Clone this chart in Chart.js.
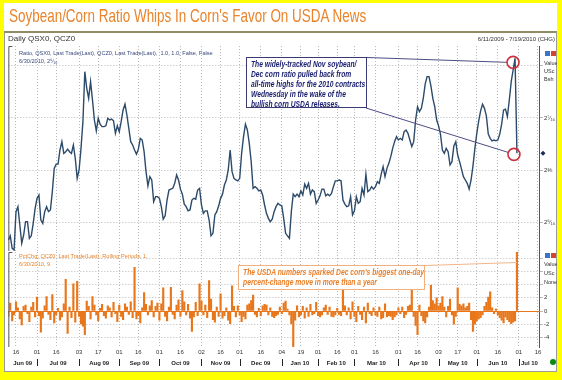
<!DOCTYPE html>
<html><head><meta charset="utf-8">
<script src="https://cdn.jsdelivr.net/npm/chart.js@4.4.1/dist/chart.umd.min.js"></script>
<style>
html,body{margin:0;padding:0;background:#fff;}
#wrap{position:relative;width:562px;height:380px;overflow:hidden;background:#fff;font-family:"Liberation Sans",Arial,sans-serif;}
canvas{position:absolute;left:0;top:0;}
.t{position:absolute;white-space:nowrap;line-height:1;}
#frame{position:absolute;left:0;top:0;width:562px;height:380px;box-sizing:border-box;border:solid #ffff00;border-width:3px 5px 8px 4px;pointer-events:none;}
#panel{position:absolute;left:4px;top:31px;width:553px;height:341px;box-sizing:border-box;border:1px solid #9a9a9a;border-top:2px solid #8e8c62;}
.box1{position:absolute;left:246px;top:57px;width:121px;height:51px;box-sizing:border-box;border:1px solid #3a3a72;background:#fff;color:#1d2270;font-weight:bold;font-style:italic;font-size:8.4px;line-height:10px;padding:1px 0 0 4px;white-space:nowrap;overflow:hidden;}
.box2{position:absolute;left:238px;top:265px;width:187px;height:25px;box-sizing:border-box;border:1px solid #f2b07c;background:#fff;color:#e8802c;font-weight:bold;font-style:italic;font-size:8.4px;line-height:9.5px;padding:2px 0 0 4px;white-space:nowrap;overflow:hidden;}
.inner{display:inline-block;transform-origin:0 0;}
.ic{position:absolute;width:5px;height:5px;}
.rl{position:absolute;left:544px;font-size:5.5px;color:#333;line-height:1;}
</style></head>
<body><div id="wrap">
<div id="panel"></div>
<canvas id="cA" width="562" height="380"></canvas>
<canvas id="cB" width="562" height="380"></canvas>
<div class="t" id="title" style="left:9px;top:6px;font-size:19px;color:#e8842c;transform-origin:0 0;">Soybean/Corn Ratio Whips In Corn's Favor On USDA News</div>
<div class="t" style="left:8px;top:35px;font-size:8px;color:#333;">Daily QSX0, QCZ0</div>
<div class="t" style="right:7px;top:36px;font-size:6px;color:#333;">6/11/2009 - 7/19/2010 (CHG)</div>
<div class="t" style="left:19px;top:51px;font-size:5.6px;color:#3a4a7c;">Ratio, QSX0, Last Trade(Last), QCZ0, Last Trade(Last),&nbsp; 1.0, 1.0, False, False</div>
<div class="t" style="left:19px;top:59px;font-size:5.6px;color:#3a4a7c;">6/30/2010, 2⁶⁄₁₆</div>
<div class="ic" style="left:545px;top:51px;background:#3b73c8;"></div>
<div class="ic" style="left:551px;top:51px;background:#d2452e;"></div>
<div class="rl" style="top:61px;">Value</div>
<div class="rl" style="top:69px;">USc</div>
<div class="rl" style="top:77px;">Bsh</div>
<div class="t" style="left:19px;top:254px;font-size:5.6px;color:#e8842c;">PctChg, QCZ0, Last Trade(Last), Rolling Periods, 1,</div>
<div class="t" style="left:19px;top:262px;font-size:5.6px;color:#e8842c;">6/30/2010, 9</div>
<div class="ic" style="left:545px;top:253px;background:#3b73c8;"></div>
<div class="ic" style="left:551px;top:253px;background:#d2452e;"></div>
<div class="rl" style="top:262px;">Value</div>
<div class="rl" style="top:271px;">USc</div>
<div class="rl" style="top:280px;">None</div>
<div class="box1"><div class="inner" id="in1">The widely-tracked Nov soybean/<br>Dec corn ratio pulled back from<br>all-time highs for the 2010 contracts<br>Wednesday in the wake of the<br>bullish corn USDA releases.</div></div>
<div class="box2"><div class="inner" id="in2">The USDA numbers sparked Dec corn's biggest one-day<br>percent-change move in more than a year</div></div>
<div style="position:absolute;left:550px;top:359px;width:6px;height:6px;border-radius:50%;background:#0b8a12;"></div>
<div id="frame"></div>
</div>
<script>
// ---------- data ----------
const holidays = ['2009-07-03','2009-09-07','2009-11-26','2009-12-25','2010-01-01','2010-01-18','2010-02-15','2010-04-02','2010-05-31','2010-07-05'];
const firstDay = [2009, 5, 10];   // 10 Jun 2009
const lastDay  = [2010, 6, 19];   // 19 Jul 2010
const monthNames = ['Jan','Feb','Mar','Apr','May','Jun','Jul','Aug','Sep','Oct','Nov','Dec'];

// Nov soybean / Dec corn ratio, daily close
const ratio = [
2.291,2.296,2.281,2.279,2.325,2.331,2.309,2.287,2.297,2.313,
2.313,2.293,2.296,2.311,2.329,2.341,2.345,2.315,2.311,2.325,
2.331,2.325,2.327,2.349,2.377,2.382,2.382,2.399,2.409,2.395,
2.397,2.400,2.397,2.395,2.405,2.389,2.365,2.375,2.401,2.433,
2.493,2.473,2.461,2.481,2.459,2.435,2.422,2.437,2.430,2.427,
2.427,2.428,2.437,2.435,2.436,2.434,2.419,2.428,2.421,2.433,
2.447,2.454,2.441,2.425,2.409,2.405,2.399,2.394,2.400,2.413,
2.411,2.397,2.373,2.356,2.367,2.363,2.337,2.343,2.343,2.341,
2.331,2.316,2.320,2.339,2.351,2.352,2.353,2.359,2.369,2.363,
2.352,2.346,2.334,2.331,2.326,2.327,2.339,2.341,2.340,2.351,
2.353,2.333,2.323,2.326,2.326,2.315,2.296,2.299,2.321,2.325,
2.332,2.341,2.346,2.357,2.363,2.375,2.399,2.373,2.365,2.363,
2.362,2.365,2.395,2.415,2.430,2.423,2.407,2.385,2.353,2.355,
2.353,2.350,2.351,2.345,2.333,2.323,2.317,2.313,2.316,2.325,
2.331,2.335,2.333,2.332,2.317,2.299,2.296,2.293,2.325,2.346,
2.343,2.346,2.343,2.350,2.345,2.358,2.353,2.359,2.346,2.351,
2.349,2.335,2.339,2.344,2.352,2.352,2.344,2.346,2.344,2.347,
2.355,2.362,2.362,2.363,2.362,2.339,2.334,2.331,2.332,2.343,
2.321,2.326,2.343,2.335,2.337,2.353,2.345,2.370,2.349,2.351,
2.355,2.352,2.355,2.361,2.359,2.370,2.379,2.367,2.377,2.383,
2.391,2.401,2.409,2.415,2.411,2.413,2.411,2.421,2.423,2.419,
2.411,2.403,2.409,2.435,2.451,2.445,2.449,2.461,2.478,2.487,
2.487,2.476,2.461,2.451,2.435,2.428,2.418,2.399,2.395,2.401,
2.397,2.381,2.385,2.404,2.409,2.393,2.385,2.376,2.367,2.363,
2.359,2.352,2.363,2.380,2.401,2.419,2.434,2.446,2.454,2.449,
2.440,2.418,2.413,2.410,2.411,2.410,2.411,2.418,2.430,2.447,
2.448,2.439,2.459,2.481,2.495,2.509,2.395
];

// Dec corn daily percent change
const pctChange = [
-0.8,1.2,-1.5,-0.6,1.4,0.5,-1.2,-2.1,0.7,0.9,
-0.4,-1.6,0.6,1.3,-0.9,2.1,-0.7,-3.2,-1.1,0.8,
2.2,-0.5,-1.3,2.5,-1.8,-0.6,0.4,-1.4,-0.9,1.1,
4.8,-3.4,0.6,-1.0,4.1,-1.7,4.5,-0.8,-1.9,-2.3,
-3.6,1.5,0.7,-1.2,2.2,0.9,-0.6,-1.5,0.4,1.0,
-0.7,-1.1,0.8,0.5,-0.9,1.3,-0.4,-1.6,0.9,-0.8,
-1.3,1.1,0.6,-0.5,1.4,-1.0,6.6,-1.2,-0.7,-1.8,
0.5,2.8,1.0,-0.6,0.8,1.6,-0.9,0.7,1.2,-1.4,
1.1,3.5,-0.8,-1.5,0.6,3.6,-0.5,-1.2,0.9,1.7,
-0.8,3.1,1.4,-0.6,1.0,-1.1,-3.1,-0.9,1.3,-0.7,
4.1,1.5,-0.6,0.9,-1.0,4.6,1.8,-1.3,-1.7,0.6,
-0.8,2.6,-1.1,-0.7,0.5,-1.4,-1.9,3.8,0.7,-0.9,
0.8,-0.6,-1.6,-0.8,-1.2,0.9,1.1,1.6,2.4,-0.5,
-0.9,0.4,-0.7,0.8,1.0,0.9,-0.6,0.5,-0.8,-1.0,
-0.7,-0.5,0.6,-0.4,1.2,1.5,0.3,-0.6,-1.9,-5.9,
-1.4,0.8,-0.9,-0.6,0.7,-1.1,0.5,-0.8,1.0,-0.6,
-0.4,1.3,-0.7,-0.9,-0.6,0.5,0.9,-0.5,0.6,-0.8,
-0.9,-0.6,0.4,-0.5,-0.7,4.1,0.8,-0.6,0.5,-1.2,
1.4,-0.8,-1.6,0.7,-0.5,-1.3,0.6,-1.8,1.2,-0.4,
-0.7,0.5,-0.6,-0.8,0.6,-1.2,-1.0,1.1,-0.9,-0.7,
-0.8,-1.3,-0.9,-0.6,0.5,-0.4,0.6,-1.0,-0.5,0.7,
0.9,3.4,-0.8,-2.2,-3.6,0.9,-0.7,-1.5,-1.8,-0.9,
0.6,3.9,1.6,1.1,2.0,0.8,1.2,2.2,0.6,-0.9,
0.7,1.8,-0.6,-2.0,-0.8,3.5,1.0,0.8,1.1,0.5,
0.7,1.2,-1.3,-3.1,-2.0,-1.5,-1.2,-1.0,-0.6,0.7,
1.3,2.1,2.9,0.5,-0.4,0.3,-0.6,-1.0,-1.4,-1.8,
-0.9,-1.3,-1.6,-1.9,-1.7,-1.5,8.9
];

const ratioTicks = [2.3125, 2.375, 2.4375, 2.5];
const ratioTickLabels = ['2⁵⁄₁₆', '2⅜', '2⁷⁄₁₆', ''];
const pctTicks = [-4, -2, 0, 2, 4, 6, 8];
const pctTickLabels = ['-4', '-2', '0', '2', '', '', ''];

// ---------- trading-day labels ----------
function buildDays(){
  const out = [];
  let t = Date.UTC(firstDay[0], firstDay[1], firstDay[2]);
  const end = Date.UTC(lastDay[0], lastDay[1], lastDay[2]);
  while (t <= end){
    const d = new Date(t), dow = d.getUTCDay(), s = d.toISOString().slice(0,10);
    if (dow !== 0 && dow !== 6 && !holidays.includes(s)) out.push(s);
    t += 86400000;
  }
  return out;
}
const days = buildDays();
function tickText(i){
  if (i === 0) return null;
  const s = days[i], p = days[i-1];
  const m = s.slice(5,7), pm = p.slice(5,7), d = +s.slice(8), pd = +p.slice(8);
  if (m !== pm) return s.slice(8);
  if (d >= 16 && pd < 16) return s.slice(8);
  return null;
}

const FONT = "'Liberation Sans', Arial, sans-serif";
const GRID = '#b8b8b8';
const LEFT = 8.35, AXW = 22.1;

const upperPlugin = {
  id: 'upperMarks',
  afterDatasetsDraw(chart){
    const {ctx, chartArea: a, scales: {y}} = chart;
    const pts = chart.getDatasetMeta(0).data;
    const p1 = pts[pts.length - 2], p2 = pts[pts.length - 1];
    ctx.save();
    ctx.strokeStyle = '#555'; ctx.lineWidth = 1;
    ctx.beginPath(); ctx.moveTo(a.left + 4, a.top + 0.5); ctx.lineTo(a.left + 0.5, a.top + 0.5); ctx.lineTo(a.left + 0.5, a.bottom); ctx.stroke();
    ctx.strokeStyle = '#4d4d82'; ctx.lineWidth = 1;
    ctx.beginPath(); ctx.moveTo(367, 57.5); ctx.lineTo(p1.x - 8, p1.y + 4);
    ctx.moveTo(366, 108); ctx.lineTo(p2.x - 9, p2.y - 1); ctx.stroke();
    ctx.strokeStyle = '#c9323e'; ctx.lineWidth = 1.6;
    ctx.beginPath(); ctx.arc(p1.x - 2, p1.y + 4, 6, 0, Math.PI*2); ctx.stroke();
    ctx.beginPath(); ctx.arc(p2.x - 3, p2.y + 1, 6, 0, Math.PI*2); ctx.stroke();
    const yy = y.getPixelForValue(ratio[ratio.length-1]);
    ctx.fillStyle = '#1d2a5a';
    ctx.beginPath(); ctx.moveTo(543, yy-2.5); ctx.lineTo(545.5, yy); ctx.lineTo(543, yy+2.5); ctx.lineTo(540.5, yy); ctx.closePath(); ctx.fill();
    ctx.restore();
  }
};

const lowerPlugin = {
  id: 'lowerMarks',
  beforeDatasetsDraw(chart){
    const {ctx, chartArea: a, scales: {y}} = chart;
    const y0 = Math.round(y.getPixelForValue(0)) + 0.5;
    ctx.save(); ctx.strokeStyle = '#e8761b'; ctx.lineWidth = 1;
    ctx.beginPath(); ctx.moveTo(a.left, y0); ctx.lineTo(a.right, y0); ctx.stroke(); ctx.restore();
  },
  afterDatasetsDraw(chart){
    const {ctx, chartArea: a, scales: {x}} = chart;
    const bars = chart.getDatasetMeta(0).data;
    const spike = bars[bars.length - 1];
    ctx.save();
    ctx.strokeStyle = '#555'; ctx.lineWidth = 1;
    ctx.beginPath(); ctx.moveTo(a.left + 4, a.top + 0.5); ctx.lineTo(a.left + 0.5, a.top + 0.5); ctx.lineTo(a.left + 0.5, a.bottom); ctx.stroke();
    ctx.strokeStyle = '#f4b48a'; ctx.lineWidth = 1;
    ctx.beginPath(); ctx.moveTo(425, 265.5); ctx.lineTo(spike.x, 262.5); ctx.stroke();
    const starts = [];
    for (let i = 0; i < days.length; i++){
      if (i === 0 || days[i].slice(5,7) !== days[i-1].slice(5,7)) starts.push(i);
    }
    ctx.fillStyle = '#222'; ctx.textBaseline = 'middle'; ctx.textAlign = 'center';
    ctx.font = 'bold 6px ' + FONT;
    for (let k = 0; k < starts.length; k++){
      const i = starts[k];
      const xs = k === 0 ? a.left : x.getPixelForValue(i);
      const xe = k + 1 < starts.length ? x.getPixelForValue(starts[k+1]) : a.right;
      const s = days[i];
      ctx.fillText(monthNames[+s.slice(5,7) - 1] + ' ' + s.slice(2,4), (xs + xe) / 2, 363);
      if (k > 0){ ctx.fillRect(Math.round(xs), 359, 1, 7); }
    }
    ctx.restore();
  }
};

const common = (padTop, padBottom) => ({
  responsive: false, animation: false, devicePixelRatio: 1,
  layout: {padding: {left: LEFT, right: 0, top: padTop, bottom: padBottom}},
  plugins: {legend: {display: false}, tooltip: {enabled: false}},
});

const optA = common(46, 129);
optA.scales = {
  x: {type: 'category', offset: false,
      grid: {color: GRID, drawTicks: false, offset: false},
      border: {display: false, dash: [1, 2]},
      ticks: {display: true, font: {size: 1}, color: 'rgba(0,0,0,0)', autoSkip: false, maxRotation: 0, callback: (v, i) => tickText(i)},
      afterFit: s => { s.height = 0; }},
  y: {position: 'right', min: 2.2778, max: 2.5238,
      afterBuildTicks: s => { s.ticks = ratioTicks.map(v => ({value: v})); },
      grid: {color: GRID, tickLength: 3},
      border: {display: true, color: '#555', dash: [1, 2]},
      ticks: {font: {family: FONT, size: 6}, color: '#333', padding: 1,
              callback: v => ratioTickLabels[ratioTicks.indexOf(v)]},
      afterFit: s => { s.width = AXW; }}
};
new Chart(document.getElementById('cA'), {
  type: 'line',
  data: {labels: days, datasets: [{data: ratio, borderColor: '#2c4a6a', borderWidth: 1.4, pointRadius: 0, tension: 0, fill: false}]},
  options: optA, plugins: [upperPlugin]
});

const optB = common(252, 10);
optB.scales = {
  x: {type: 'category', offset: false,
      grid: {color: GRID, drawTicks: false, offset: false},
      border: {display: false, dash: [1, 2]},
      ticks: {font: {family: FONT, size: 6}, color: '#333', padding: 2, autoSkip: false, maxRotation: 0, callback: (v, i) => tickText(i)},
      afterFit: s => { s.height = 23; }},
  y: {position: 'right', min: -5.45, max: 8.94,
      afterBuildTicks: s => { s.ticks = pctTicks.map(v => ({value: v})); },
      grid: {color: GRID, tickLength: 3},
      border: {display: true, color: '#555', dash: [1, 2]},
      ticks: {font: {family: FONT, size: 6}, color: '#333', padding: 1,
              callback: v => pctTickLabels[pctTicks.indexOf(v)]},
      afterFit: s => { s.width = AXW; }}
};
new Chart(document.getElementById('cB'), {
  type: 'bar',
  data: {labels: days, datasets: [{data: pctChange, backgroundColor: '#e8761b', barThickness: 1.5}]},
  options: optB, plugins: [lowerPlugin]
});

function fitW(el, w){ el.style.transform = 'scaleX(' + (w / el.offsetWidth) + ')'; }
fitW(document.getElementById('title'), 357);
fitW(document.getElementById('in1'), 114);
fitW(document.getElementById('in2'), 181);
</script>
</body></html>
